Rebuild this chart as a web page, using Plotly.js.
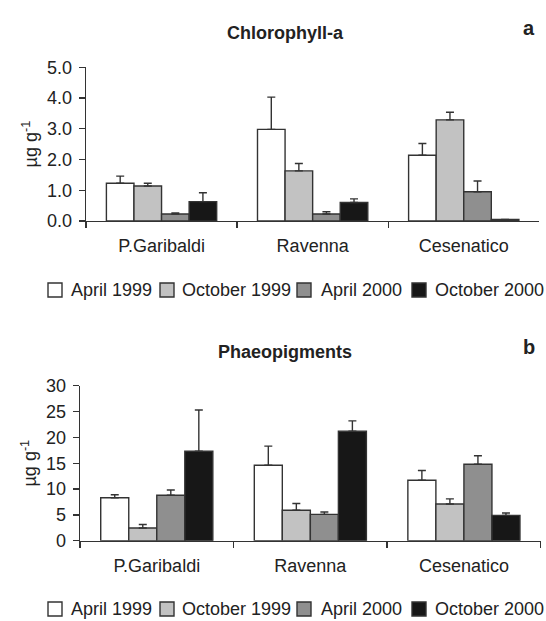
<!DOCTYPE html>
<html>
<head>
<meta charset="utf-8">
<script src="https://cdn.plot.ly/plotly-3.0.1.min.js"></script>
<style>html,body{margin:0;padding:0;background:#fff;}#chart{width:546px;height:621px;}</style>
</head>
<body>
<div id="chart"></div>
<script>
const categories = ["P.Garibaldi", "Ravenna", "Cesenatico"];
const seriesNames = ["April 1999", "October 1999", "April 2000", "October 2000"];
const seriesColors = ["#ffffff", "#c2c2c2", "#8f8f8f", "#171717"];

// Chlorophyll-a (µg g-1)
const chlApr1999 = [1.23, 2.98, 2.14];
const chlApr1999Err = [0.23, 1.05, 0.38];
const chlOct1999 = [1.14, 1.63, 3.29];
const chlOct1999Err = [0.09, 0.24, 0.25];
const chlApr2000 = [0.23, 0.23, 0.95];
const chlApr2000Err = [0.03, 0.07, 0.35];
const chlOct2000 = [0.63, 0.60, 0.05];
const chlOct2000Err = [0.29, 0.12, 0.0];

// Phaeopigments (µg g-1)
const phaApr1999 = [8.3, 14.6, 11.7];
const phaApr1999Err = [0.6, 3.7, 1.9];
const phaOct1999 = [2.45, 5.9, 7.1];
const phaOct1999Err = [0.7, 1.3, 1.0];
const phaApr2000 = [8.8, 5.1, 14.8];
const phaApr2000Err = [1.0, 0.45, 1.65];
const phaOct2000 = [17.3, 21.2, 4.9];
const phaOct2000Err = [8.0, 2.0, 0.45];

const chlValues = [chlApr1999, chlOct1999, chlApr2000, chlOct2000];
const chlErrors = [chlApr1999Err, chlOct1999Err, chlApr2000Err, chlOct2000Err];
const phaValues = [phaApr1999, phaOct1999, phaApr2000, phaOct2000];
const phaErrors = [phaApr1999Err, phaOct1999Err, phaApr2000Err, phaOct2000Err];

const FONT = "Liberation Sans, Arial, sans-serif";
const TXT = "#222";
const LINE = "#333";
const W = 546, H = 621;

function makeTraces(values, errors, xa, ya) {
  return values.map((v, i) => ({
    type: "bar",
    name: seriesNames[i],
    x: categories,
    y: v,
    xaxis: xa,
    yaxis: ya,
    showlegend: false,
    marker: {color: seriesColors[i], line: {color: LINE, width: 1.4}},
    error_y: {type: "data", symmetric: false, array: errors[i], arrayminus: v.map(() => 0),
              color: LINE, thickness: 1.4, width: 4},
    hoverinfo: "skip"
  }));
}

const data = [
  ...makeTraces(chlValues, chlErrors, "x", "y"),
  ...makeTraces(phaValues, phaErrors, "x2", "y2")
];

const xCommon = {
  type: "category", showline: true, linecolor: LINE, linewidth: 1.4,
  ticks: "outside", tickson: "boundaries", ticklen: 6, tickcolor: LINE, tickwidth: 1.4,
  showgrid: false, zeroline: false, fixedrange: true,
  tickfont: {family: FONT, size: 18, color: TXT}, ticklabelstandoff: 8
};
const yCommon = {
  showline: true, linecolor: LINE, linewidth: 1.4, ticks: "outside", ticklen: 6,
  tickcolor: LINE, tickwidth: 1.4, showgrid: false, zeroline: false, fixedrange: true,
  tickfont: {family: FONT, size: 18, color: TXT}, ticklabelstandoff: 3,
  title: {text: "µg g<sup>-1</sup>", font: {family: FONT, size: 18, color: TXT}, standoff: 4}
};

// custom legend rows (positions in px of the page)
const legendSquareX = [48, 160, 297, 412];
const legendTextX = [69, 180, 319, 433];
const legendRowY = [290, 609];
const SQ = 14;

const shapes = [];
const annotations = [
  {text: "<b>Chlorophyll-a</b>", xref: "paper", yref: "paper", x: 285/W, y: 1 - 21/H,
   showarrow: false, font: {family: FONT, size: 18, color: TXT}},
  {text: "<b>a</b>", xref: "paper", yref: "paper", x: 537/W, y: 1 - 15/H,
   showarrow: false, font: {family: FONT, size: 20, color: TXT}},
  {text: "<b>Phaeopigments</b>", xref: "paper", yref: "paper", x: 285/W, y: 1 - 352/H,
   showarrow: false, font: {family: FONT, size: 18, color: TXT}},
  {text: "<b>b</b>", xref: "paper", yref: "paper", x: 537/W, y: 1 - 347/H,
   showarrow: false, font: {family: FONT, size: 20, color: TXT}}
];
legendRowY.forEach(cy => {
  seriesNames.forEach((name, i) => {
    shapes.push({type: "rect", xref: "paper", yref: "paper",
      x0: legendSquareX[i] / W, x1: (legendSquareX[i] + SQ) / W,
      y0: 1 - (cy + SQ / 2) / H, y1: 1 - (cy - SQ / 2) / H,
      fillcolor: seriesColors[i], line: {color: LINE, width: 1.4}});
    annotations.push({text: name, xref: "paper", yref: "paper",
      x: legendTextX[i] / W, y: 1 - cy / H, xanchor: "left", yanchor: "middle",
      showarrow: false, font: {family: FONT, size: 18, color: TXT}});
  });
});

const layout = {
  width: W, height: H,
  margin: {l: 0, r: 0, t: 0, b: 0},
  paper_bgcolor: "#fff", plot_bgcolor: "#fff",
  barmode: "group", bargap: 0.27, bargroupgap: 0,
  showlegend: false,
  xaxis: Object.assign({}, xCommon, {domain: [86/W, 539.3/W], anchor: "y"}),
  yaxis: Object.assign({}, yCommon, {domain: [1 - 221/H, 1 - 67.3/H], range: [0, 5], dtick: 1, tickformat: ".1f", anchor: "x"}),
  xaxis2: Object.assign({}, xCommon, {domain: [80/W, 540.7/W], anchor: "y2"}),
  yaxis2: Object.assign({}, yCommon, {domain: [1 - 540.7/H, 1 - 385.7/H], range: [0, 30], dtick: 5, anchor: "x2"}),
  shapes: shapes,
  annotations: annotations
};

Plotly.newPlot("chart", data, layout, {displayModeBar: false, staticPlot: true});
</script>
</body>
</html>
